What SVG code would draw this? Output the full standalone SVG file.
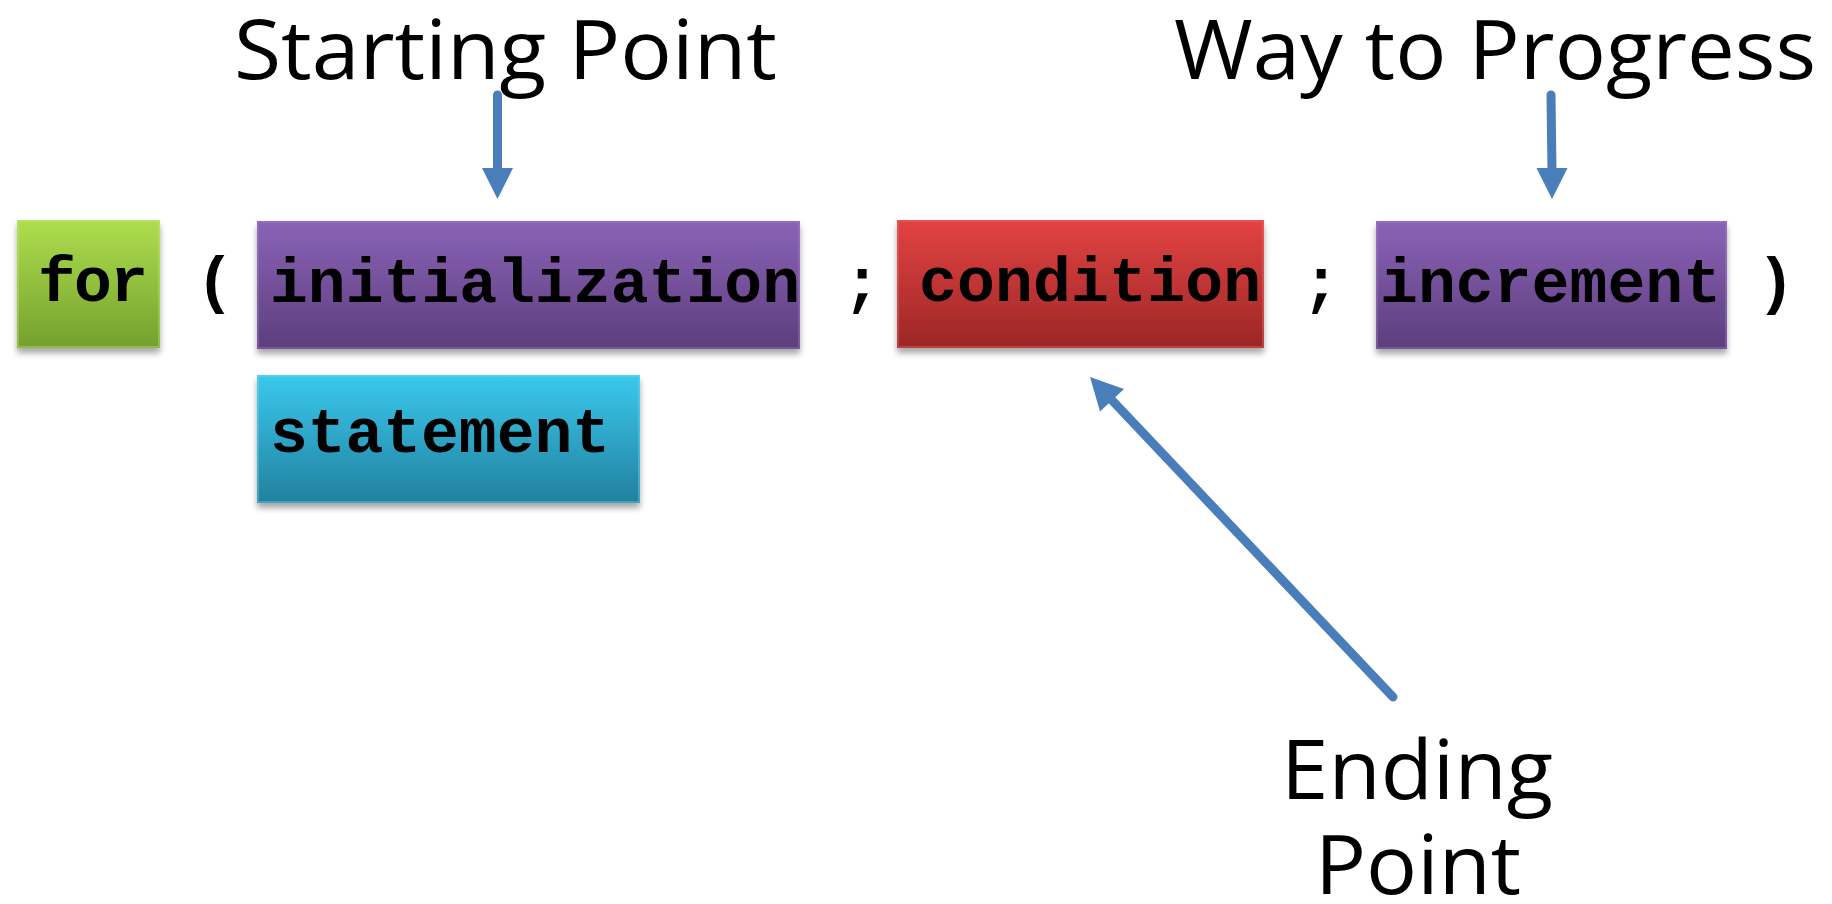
<svg xmlns="http://www.w3.org/2000/svg" width="1832" height="904" viewBox="0 0 1832 904">
  <style>
    .label { font-family: "Open Sans", "Noto Sans", sans-serif; font-size: 83px; fill: #000; }
    .code { font-family: "Liberation Mono", "Courier New", monospace; font-weight: bold; font-size: 63px; fill: #000; }
    .punct { font-family: "Liberation Mono", "Courier New", monospace; font-weight: bold; font-size: 63px; fill: #000; }
    .shaft { stroke: #4A7EBB; stroke-width: 9; stroke-linecap: round; fill: none; }
    .head { fill: #4A7EBB; }
    .edge { fill: none; stroke-width: 1.5; }
  </style>
  <defs>
    <linearGradient id="gGreen" x1="0" y1="0" x2="0" y2="1">
      <stop offset="0" stop-color="#AEDE4E"/>
      <stop offset="1" stop-color="#74A02E"/>
    </linearGradient>
    <linearGradient id="gPurple" x1="0" y1="0" x2="0" y2="1">
      <stop offset="0" stop-color="#8B63B8"/>
      <stop offset="1" stop-color="#5C3E7C"/>
    </linearGradient>
    <linearGradient id="gRed" x1="0" y1="0" x2="0" y2="1">
      <stop offset="0" stop-color="#E34342"/>
      <stop offset="1" stop-color="#9C2626"/>
    </linearGradient>
    <linearGradient id="gCyan" x1="0" y1="0" x2="0" y2="1">
      <stop offset="0" stop-color="#3AC9EE"/>
      <stop offset="1" stop-color="#22809E"/>
    </linearGradient>
    <filter id="shadow" x="-10%" y="-10%" width="120%" height="130%">
      <feGaussianBlur in="SourceAlpha" stdDeviation="3"/>
      <feOffset dx="0" dy="5" result="off"/>
      <feComponentTransfer><feFuncA type="linear" slope="0.35"/></feComponentTransfer>
      <feMerge><feMergeNode/><feMergeNode in="SourceGraphic"/></feMerge>
    </filter>
  </defs>

  <!-- top and bottom captions -->
  <text class="label" x="234" y="79" textLength="543" lengthAdjust="spacingAndGlyphs">Starting Point</text>
  <text class="label" x="1174" y="79" textLength="642" lengthAdjust="spacingAndGlyphs">Way to Progress</text>
  <text class="label" x="1281" y="799" textLength="272" lengthAdjust="spacingAndGlyphs">Ending</text>
  <text class="label" x="1315" y="894" textLength="206" lengthAdjust="spacingAndGlyphs">Point</text>

  <!-- loop header blocks -->
  <g id="node-for" filter="url(#shadow)">
    <rect x="17" y="220" width="143" height="128" fill="url(#gGreen)"/>
    <rect x="18" y="221" width="141" height="126" class="edge" stroke="#C4EA7C" stroke-opacity="0.5"/>
    <text class="code" x="38" y="301" textLength="110">for</text>
  </g>

  <text class="punct" x="196" y="301">(</text>

  <g id="node-initialization" filter="url(#shadow)">
    <rect x="257" y="221" width="543" height="128" fill="url(#gPurple)"/>
    <rect x="258" y="222" width="541" height="126" class="edge" stroke="#A584CC" stroke-opacity="0.5"/>
    <text class="code" x="270" y="302" textLength="530">initialization</text>
  </g>

  <text class="punct" x="843" y="302">;</text>

  <g id="node-condition" filter="url(#shadow)">
    <rect x="897" y="220" width="367" height="128" fill="url(#gRed)"/>
    <rect x="898" y="221" width="365" height="126" class="edge" stroke="#F07070" stroke-opacity="0.5"/>
    <text class="code" x="919" y="301" textLength="342">condition</text>
  </g>

  <text class="punct" x="1302" y="302">;</text>

  <g id="node-increment" filter="url(#shadow)">
    <rect x="1376" y="221" width="351" height="128" fill="url(#gPurple)"/>
    <rect x="1377" y="222" width="349" height="126" class="edge" stroke="#A584CC" stroke-opacity="0.5"/>
    <text class="code" x="1380" y="302" textLength="341">increment</text>
  </g>

  <text class="punct" x="1757" y="302">)</text>

  <g id="node-statement" filter="url(#shadow)">
    <rect x="257" y="375" width="383" height="128" fill="url(#gCyan)"/>
    <rect x="258" y="376" width="381" height="126" class="edge" stroke="#7ADBF4" stroke-opacity="0.5"/>
    <text class="code" x="270" y="452" textLength="340">statement</text>
  </g>

  <!-- pointer arrows -->
  <g id="connectors">
    <line class="shaft" x1="497.5" y1="95" x2="497.5" y2="172"/>
    <polygon class="head" points="482,168 513,168 497.5,199"/>

    <line class="shaft" x1="1551" y1="95" x2="1552" y2="172"/>
    <polygon class="head" points="1536.5,168 1567.5,168 1552,199"/>

    <line class="shaft" x1="1393" y1="697" x2="1108" y2="396"/>
    <polygon class="head" points="1124,389 1100,411.5 1090,377"/>
  </g>
</svg>
